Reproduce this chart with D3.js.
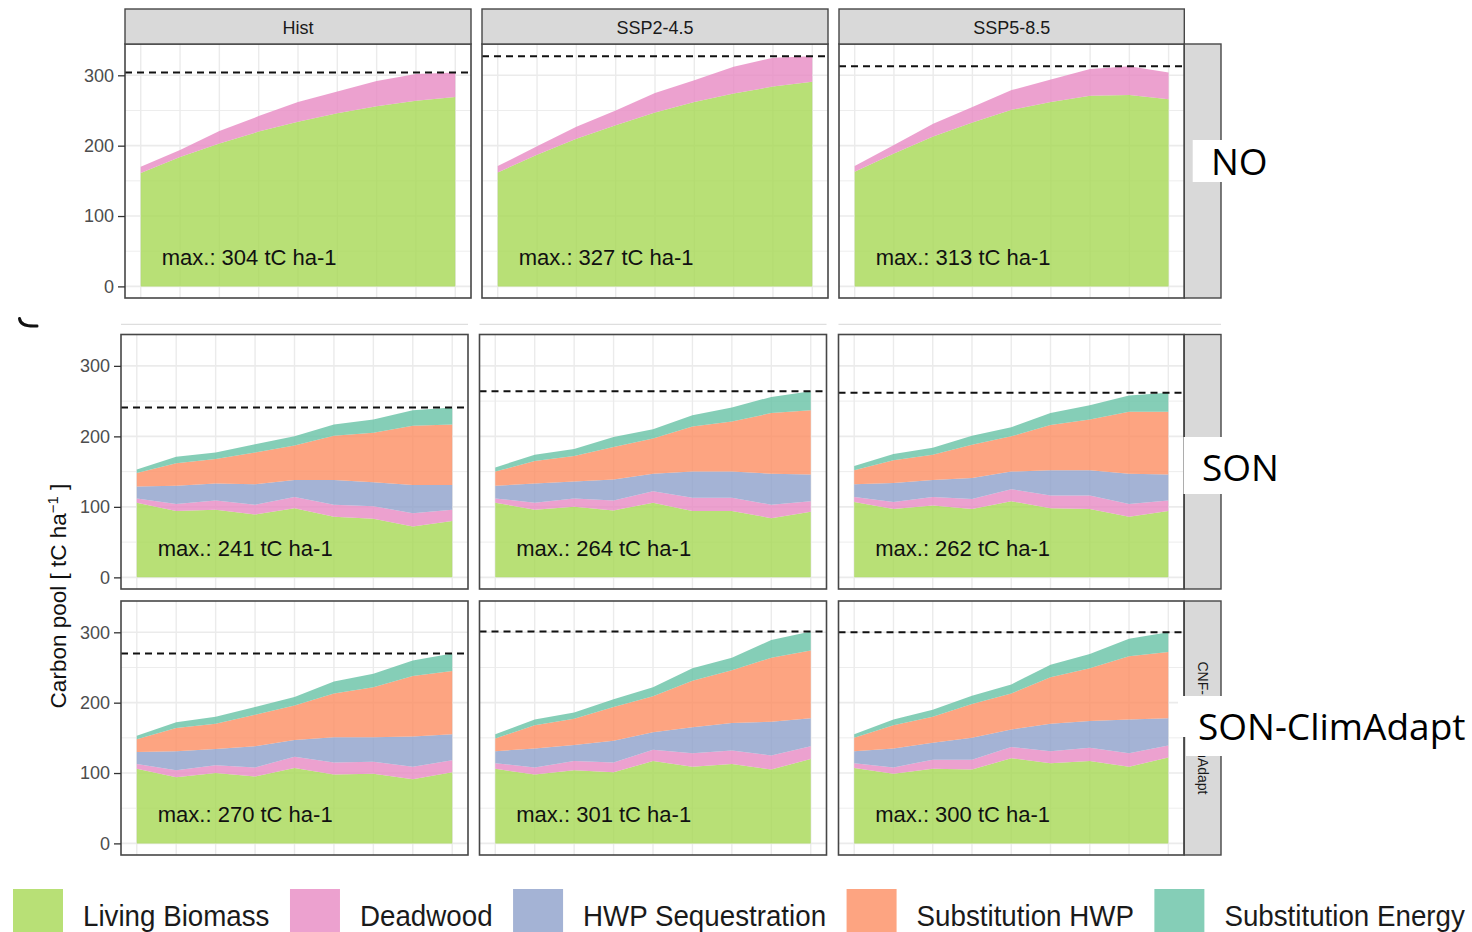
<!DOCTYPE html>
<html>
<head>
<meta charset="utf-8">
<script src="https://cdn.jsdelivr.net/npm/d3@7"></script>
<style>
  html, body { margin: 0; padding: 0; background: #ffffff; }
  svg { display: block; font-family: "Liberation Sans", Arial, sans-serif; }
</style>
</head>
<body>
<svg id="chart" width="1472" height="932"></svg>
<script>
// ---- data -------------------------------------------------------------
const years = [2020, 2030, 2040, 2050, 2060, 2070, 2080, 2090, 2100];
const climateScenarios = ["Hist", "SSP2-4.5", "SSP5-8.5"];
const managementStrips = ["NO", "SON", "CNF-SON-ClimAdapt"];
const managementLabels = ["NO", "SON", "SON-ClimAdapt"];
const pools = ["Living Biomass", "Deadwood", "HWP Sequestration", "Substitution HWP", "Substitution Energy"];
const yTicks = [0, 100, 200, 300];

// Rows of each pool array follow the panel order:
// NO (Hist, SSP2-4.5, SSP5-8.5), SON (...), SON-ClimAdapt (...)
const livingBiomass = [
  [161, 184, 203, 220, 234, 246, 256, 264, 269],
  [162, 187, 210, 229, 247, 262, 274, 284, 291],
  [163, 189, 213, 233, 251, 262, 271, 272, 266],
  [106, 94, 96, 89, 98, 86, 83, 72, 80],
  [106, 96, 100, 95, 106, 94, 94, 84, 93],
  [107, 97, 102, 97, 108, 98, 97, 86, 94],
  [106, 94, 100, 95, 107, 98, 99, 91, 101],
  [106, 98, 104, 101, 117, 109, 113, 105, 120],
  [107, 99, 106, 105, 121, 114, 117, 109, 122]
];
const deadwood = [
  [9, 10, 18, 22, 28, 31, 36, 38, 35],
  [9, 12, 17, 21, 28, 31, 38, 41, 36],
  [8, 12, 18, 22, 28, 32, 38, 41, 38],
  [6, 10, 13, 14, 16, 17, 18, 19, 16],
  [6, 10, 12, 14, 16, 19, 19, 19, 15],
  [7, 10, 12, 14, 17, 18, 19, 18, 15],
  [7, 10, 11, 13, 16, 17, 17, 18, 17],
  [8, 10, 13, 14, 16, 19, 19, 20, 18],
  [7, 9, 13, 14, 16, 17, 19, 19, 17]
];
const hwpSequestration = [
  [0, 0, 0, 0, 0, 0, 0, 0, 0],
  [0, 0, 0, 0, 0, 0, 0, 0, 0],
  [0, 0, 0, 0, 0, 0, 0, 0, 0],
  [17, 26, 24, 29, 24, 35, 34, 40, 35],
  [18, 27, 24, 30, 25, 37, 37, 44, 38],
  [18, 27, 24, 30, 25, 36, 36, 43, 37],
  [17, 27, 23, 30, 24, 36, 35, 43, 37],
  [17, 27, 23, 31, 25, 37, 39, 48, 40],
  [17, 27, 24, 31, 25, 39, 38, 48, 39]
];
const substitutionHwp = [
  [0, 0, 0, 0, 0, 0, 0, 0, 0],
  [0, 0, 0, 0, 0, 0, 0, 0, 0],
  [0, 0, 0, 0, 0, 0, 0, 0, 0],
  [19, 32, 35, 45, 49, 63, 70, 84, 86],
  [20, 32, 36, 46, 50, 64, 71, 86, 91],
  [20, 32, 36, 47, 50, 64, 72, 88, 89],
  [18, 33, 36, 45, 49, 62, 71, 86, 90],
  [18, 33, 37, 48, 51, 66, 75, 91, 96],
  [19, 33, 37, 48, 51, 66, 75, 90, 94]
];
const substitutionEnergy = [
  [0, 0, 0, 0, 0, 0, 0, 0, 0],
  [0, 0, 0, 0, 0, 0, 0, 0, 0],
  [0, 0, 0, 0, 0, 0, 0, 0, 0],
  [5, 9, 9, 12, 13, 16, 19, 22, 24],
  [6, 9, 10, 14, 13, 16, 20, 23, 27],
  [6, 9, 10, 13, 13, 17, 20, 23, 27],
  [5, 8, 10, 11, 12, 17, 19, 22, 25],
  [6, 8, 9, 11, 13, 18, 18, 25, 27],
  [5, 8, 10, 12, 13, 18, 20, 25, 28]
];

// ---- styling ------------------------------------------------------------
const poolSeries = [livingBiomass, deadwood, hwpSequestration, substitutionHwp, substitutionEnergy];
const poolColors = ["#a6d854", "#e78ac3", "#8da0cb", "#fc8d62", "#66c2a5"];
const areaOpacity = 0.8;

// facet geometry
const rowBoxes = [
  { top: 44, bottom: 298 },
  { top: 334.5, bottom: 589 },
  { top: 601, bottom: 855 }
];
const colBoxes = [
  [[125, 471], [482, 828], [839, 1184.3]],
  [[121, 468], [479.5, 826.5], [838.5, 1184]],
  [[121, 468], [479.5, 826.5], [838.5, 1184]]
];
const rowStripX = [1184.3, 1221];
const yDomain = [-16.5, 344.5];
const xDomain = [2016, 2104];

const svg = d3.select("#chart");
const stack = d3.stack().keys(d3.range(pools.length));

// faint remnants of an upper strip row above the middle facets
svg.append("g").selectAll("line")
  .data([[121, 468], [479.5, 826.5], [838.5, 1221]])
  .join("line")
  .attr("x1", d => d[0]).attr("x2", d => d[1])
  .attr("y1", 324.3).attr("y2", 324.3)
  .attr("stroke", "#dedede").attr("stroke-width", 1.2);

svg.append("path")
  .attr("d", "M19.5,318.5 Q20.5,327 37,326")
  .attr("fill", "none").attr("stroke", "#111").attr("stroke-width", 3)
  .attr("stroke-linecap", "round");

for (let r = 0; r < 3; r++) {
  const { top, bottom } = rowBoxes[r];
  const y = d3.scaleLinear().domain(yDomain).range([bottom, top]);

  for (let c = 0; c < 3; c++) {
    const i = r * 3 + c;
    const [x0, x1] = colBoxes[r][c];
    const x = d3.scaleLinear().domain(xDomain).range([x0, x1]);
    const g = svg.append("g");

    const rows = years.map((yr, k) => {
      const o = { year: yr };
      poolSeries.forEach((s, j) => { o[j] = s[i][k]; });
      return o;
    });
    const totals = rows.map(o => d3.sum(pools, (p, j) => o[j]));
    const maxTotal = Math.round(d3.max(totals));

    // background + grid
    g.append("rect").attr("x", x0).attr("y", top)
      .attr("width", x1 - x0).attr("height", bottom - top).attr("fill", "#fff");
    g.append("g").selectAll("line").data([50, 150, 250]).join("line")
      .attr("x1", x0).attr("x2", x1).attr("y1", d => y(d)).attr("y2", d => y(d))
      .attr("stroke", "#ebebeb").attr("stroke-width", 0.9);
    g.append("g").selectAll("line").data(yTicks).join("line")
      .attr("x1", x0).attr("x2", x1).attr("y1", d => y(d)).attr("y2", d => y(d))
      .attr("stroke", "#ebebeb").attr("stroke-width", 1.6);
    g.append("g").selectAll("line").data(years).join("line")
      .attr("x1", d => x(d)).attr("x2", d => x(d)).attr("y1", top).attr("y2", bottom)
      .attr("stroke", "#ebebeb").attr("stroke-width", 1.4);

    // stacked pools
    const area = d3.area()
      .x(d => x(d.data.year))
      .y0(d => y(d[0]))
      .y1(d => y(d[1]));
    g.append("g").selectAll("path").data(stack(rows)).join("path")
      .attr("d", area)
      .attr("fill", (d, j) => poolColors[j])
      .attr("fill-opacity", areaOpacity);

    // maximum reference line
    g.append("line")
      .attr("x1", x0).attr("x2", x1)
      .attr("y1", y(maxTotal)).attr("y2", y(maxTotal))
      .attr("stroke", "#111").attr("stroke-width", 2)
      .attr("stroke-dasharray", "7,5");

    g.append("text")
      .attr("x", x(years[0]) + 21)
      .attr("y", y(31))
      .attr("font-size", 22)
      .attr("fill", "#111")
      .text(`max.: ${maxTotal} tC ha-1`);

    g.append("rect").attr("x", x0).attr("y", top)
      .attr("width", x1 - x0).attr("height", bottom - top)
      .attr("fill", "none").attr("stroke", "#474747").attr("stroke-width", 1.6);

    // column strips on the first row
    if (r === 0) {
      g.append("rect").attr("x", x0).attr("y", 9)
        .attr("width", x1 - x0).attr("height", top - 9)
        .attr("fill", "#d9d9d9").attr("stroke", "#474747").attr("stroke-width", 1.4);
      g.append("text")
        .attr("x", (x0 + x1) / 2).attr("y", 33.5)
        .attr("text-anchor", "middle").attr("font-size", 18)
        .attr("fill", "#1a1a1a")
        .text(climateScenarios[c]);
    }

    // y axis on the first column
    if (c === 0) {
      const ax = g.append("g").attr("transform", `translate(${x0},0)`)
        .call(d3.axisLeft(y).tickValues(yTicks).tickSize(7).tickPadding(4));
      ax.select(".domain").remove();
      ax.selectAll(".tick line").attr("stroke", "#333").attr("stroke-width", 1.3);
      ax.selectAll(".tick text")
        .attr("font-size", 18).attr("fill", "#4d4d4d")
        .attr("font-family", "\"Liberation Sans\", Arial, sans-serif");
    }
  }

  // row strip
  const sg = svg.append("g");
  sg.append("rect").attr("x", rowStripX[0]).attr("y", top)
    .attr("width", rowStripX[1] - rowStripX[0]).attr("height", bottom - top)
    .attr("fill", "#d9d9d9").attr("stroke", "#474747").attr("stroke-width", 1.4);
  sg.append("text")
    .attr("transform", `translate(${(rowStripX[0] + rowStripX[1]) / 2},${(top + bottom) / 2}) rotate(90)`)
    .attr("text-anchor", "middle").attr("dominant-baseline", "central")
    .attr("font-size", 14).attr("fill", "#1a1a1a")
    .text(managementStrips[r]);
}

// y-axis title
const yTitle = svg.append("text")
  .attr("transform", "translate(66,596) rotate(-90)")
  .attr("text-anchor", "middle")
  .attr("font-size", 22.5)
  .attr("fill", "#111");
yTitle.append("tspan").text("Carbon pool [ tC ha");
yTitle.append("tspan").attr("baseline-shift", "super").attr("font-size", 15).text("\u22121");
yTitle.append("tspan").text(" ]");

// management labels on white boxes over the row strips
const boxes = [
  [[1192.7, 140, 90, 42]],
  [[1183.5, 437, 120, 57]],
  [[1178, 696, 300, 41], [1186, 696, 300, 60]]
];
const labelPos = [[1211, 175], [1202, 481], [1198, 740]];
managementLabels.forEach((lab, r) => {
  boxes[r].forEach(b => {
    svg.append("rect").attr("x", b[0]).attr("y", b[1])
      .attr("width", b[2]).attr("height", b[3]).attr("fill", "#fff");
  });
  svg.append("text")
    .attr("x", labelPos[r][0]).attr("y", labelPos[r][1])
    .attr("font-family", "\"Open Sans\", \"Noto Sans\", sans-serif")
    .attr("font-size", 37).attr("fill", "#000")
    .text(lab);
});

// legend
const legend = svg.append("g");
const legendSquash = 0.925;
let cx = 13;
pools.forEach((p, j) => {
  legend.append("rect").attr("x", cx).attr("y", 889)
    .attr("width", 50).attr("height", 50)
    .attr("fill", poolColors[j]).attr("fill-opacity", areaOpacity);
  cx += 50 + 20;
  const t = legend.append("text")
    .attr("transform", `translate(${cx},926) scale(${legendSquash},1)`)
    .attr("font-size", 30).attr("fill", "#1a1a1a")
    .text(p);
  cx += t.node().getComputedTextLength() * legendSquash + 20.5;
});
</script>
</body>
</html>
